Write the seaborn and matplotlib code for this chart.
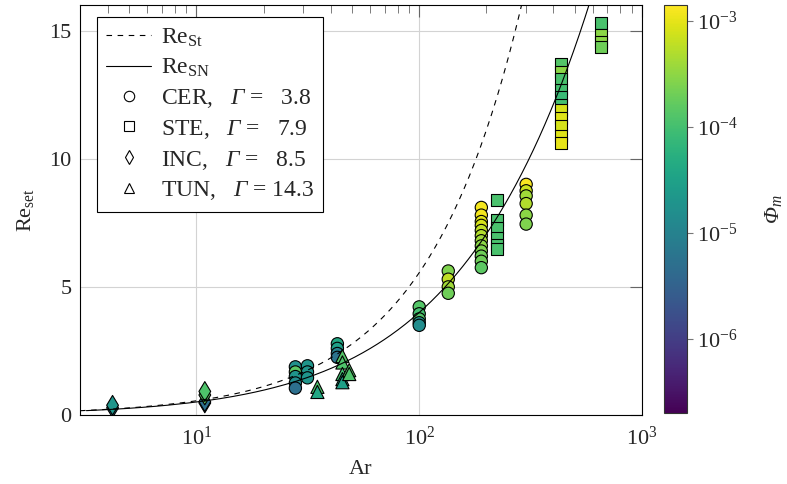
import numpy as np
import pandas as pd
import matplotlib
matplotlib.use("Agg")
import matplotlib.pyplot as plt
import seaborn as sns
from matplotlib.colors import LogNorm
from matplotlib.lines import Line2D
from matplotlib.cm import ScalarMappable

# ---------------- data ----------------
CER_AR = [27.8]*5 + [31.5]*3 + [42.9]*4 + [100]*5 + [135]*4 + [190]*12 + [302]*6
CER_RE = [1.88, 1.68, 1.50, 1.25, 1.05,
          1.92, 1.68, 1.45,
          2.78, 2.60, 2.40, 2.25,
          4.22, 3.95, 3.75, 3.60, 3.50,
          5.62, 5.30, 5.00, 4.75,
          8.10, 7.80, 7.55, 7.40, 7.20, 7.00, 6.80, 6.60, 6.40, 6.20, 6.00, 5.75,
          9.00, 8.75, 8.55, 8.25, 7.80, 7.45]
CER_PHI = [1.7e-5, 1.5e-4, 2e-5, 1.5e-5, 5e-6,
           2e-5, 2e-5, 2e-5,
           4e-5, 3e-5, 1e-5, 6e-6,
           1.3e-4, 1e-4, 1.3e-4, 2e-5, 1.5e-5,
           2.5e-4, 6e-4, 4e-4, 2e-4,
           1.2e-3, 1.2e-3, 9e-4, 8e-4, 6e-4, 5e-4, 4e-4, 3e-4, 2.5e-4, 2e-4, 2e-4, 1.5e-4,
           1.3e-3, 7e-4, 4e-4, 5e-4, 3e-4, 2.5e-4]

STE_AR = [224]*6 + [433]*11 + [655]*4
STE_RE = [8.38, 7.60, 7.30, 6.90, 6.65, 6.48,
          13.7, 13.4, 13.1, 12.7, 12.4, 12.1, 11.9, 11.6, 11.3, 10.9, 10.6,
          15.3, 14.85, 14.55, 14.35]
STE_PHI = [1.1e-4]*6 + [1.3e-4, 3e-4, 1.1e-4, 1e-4, 8e-5, 1e-4, 8e-4, 9e-4, 8e-4, 9e-4, 1e-3] \
          + [1.1e-4, 3e-4, 3e-4, 2e-4]

INC_AR = [4.2, 4.2, 10.9, 10.9, 10.9, 10.9]
INC_RE = [0.28, 0.38, 0.47, 0.52, 0.78, 0.92]
INC_PHI = [6e-6, 2e-5, 1e-5, 5e-6, 1.5e-4, 1.2e-4]

TUN_AR = [34.9, 34.9, 45.2, 45.2, 45.2, 45.2, 45.2, 48.5, 48.5]
TUN_RE = [1.10, 0.90, 2.30, 2.05, 1.60, 1.40, 1.28, 1.75, 1.60]
TUN_PHI = [1.2e-4, 4e-5, 1.3e-4, 1.2e-4, 1e-4, 4e-5, 3e-5, 1.3e-4, 1.2e-4]

GROUPS = ["CER", "STE", "INC", "TUN"]
GAMMA = ["3.8", "7.9", "8.5", "14.3"]

# model constants (Stokes and Schiller-Naumann drag laws)
STOKES_C = 18.0
SN_A, SN_B = 0.15, 0.687

PHI_MIN, PHI_MAX = 2e-7, 1.4e-3

# ---------------- style ----------------
sns.set_theme(style="white")
FS = 16
plt.rcParams.update({
    "font.family": ["Liberation Serif", "DejaVu Serif"],
    "mathtext.fontset": "custom",
    "mathtext.rm": "Liberation Serif",
    "mathtext.it": "Liberation Serif:italic",
    "mathtext.bf": "Liberation Serif:bold",
    "mathtext.sf": "Liberation Serif:italic",   # used for italic Greek capitals
    "font.size": FS,
    "axes.edgecolor": "black",
    "axes.linewidth": 0.8,
})

fig = plt.figure(figsize=(7.87, 4.84), dpi=100)
W, H = 787, 484
ax = fig.add_axes([80 / W, 1 - 415 / H, (642 - 80) / W, (415 - 5) / H])
cax = fig.add_axes([664 / W, 1 - 413 / H, 23 / W, 408 / H])

norm = LogNorm(vmin=PHI_MIN, vmax=PHI_MAX)

groups = {
    "CER": (CER_AR, CER_RE, CER_PHI, "o", 78),
    "STE": (STE_AR, STE_RE, STE_PHI, "s", 72),
    "INC": (INC_AR, INC_RE, INC_PHI, "d", 100),
    "TUN": (TUN_AR, TUN_RE, TUN_PHI, "^", 90),
}
for name in ["INC", "CER", "TUN", "STE"]:
    a, r, p, m, s = groups[name]
    df = pd.DataFrame({"Ar": a, "Re": r, "phi": p})
    sns.scatterplot(data=df, x="Ar", y="Re", hue="phi", palette="viridis",
                    hue_norm=norm, marker=m, s=s, edgecolor="black",
                    linewidth=0.8, legend=False, ax=ax, zorder=2)

# model curves
ar_grid = np.logspace(np.log10(3), 3, 300)
re_st = ar_grid / STOKES_C
re_grid = np.linspace(0.0, 17, 400)
ar_sn = STOKES_C * re_grid * (1 + SN_A * re_grid ** SN_B)
mask = ar_sn > 2.5
sns.lineplot(x=ar_grid, y=re_st, ax=ax, color="black", lw=0.8,
             linestyle=(0, (5, 5)), zorder=3)
sns.lineplot(x=ar_sn[mask], y=re_grid[mask], ax=ax, color="black", lw=0.8,
             zorder=3, sort=False)

ax.set_xscale("log")
ax.set_xlim(3, 1000)
ax.set_ylim(0, 16)
ax.set_yticks([0, 5, 10, 15])
ax.grid(True, which="major", color="#d3d3d3", lw=0.8)
ax.set_axisbelow(True)
ax.tick_params(which="both", direction="in", top=True, right=True,
               color="#666666", labelsize=FS)
ax.tick_params(which="major", length=8.5, width=0.8)
ax.tick_params(which="minor", length=5.5, width=0.6)
ax.tick_params(axis="x", which="major", pad=8)
ax.tick_params(axis="y", which="major", pad=6)
ax.set_xlabel("Ar", fontsize=FS, labelpad=8)
ax.set_ylabel("Re$_{\\mathrm{set}}$", fontsize=FS, labelpad=10)
for sp in ax.spines.values():
    sp.set_color("black")
    sp.set_linewidth(0.8)

# legend
handles = [
    Line2D([], [], color="black", lw=0.8, linestyle=(0, (5, 5))),
    Line2D([], [], color="black", lw=0.8),
]
labels = ["Re$_{\\mathrm{St}}$", "Re$_{\\mathrm{SN}}$"]
markers = {"CER": "o", "STE": "s", "INC": "d", "TUN": "^"}
for g, gam in zip(GROUPS, GAMMA):
    handles.append(Line2D([], [], linestyle="none", marker=markers[g],
                          markerfacecolor="white", markeredgecolor="black",
                          markersize=7.5, markeredgewidth=0.8))
    pad = "   " if len(gam) == 3 else " "
    labels.append(f"{g},   $\\mathsf{{\\Gamma}}$ ={pad}{gam}")
leg = ax.legend(handles, labels, loc="upper left", bbox_to_anchor=(0.03, 0.97),
                borderaxespad=0, frameon=True, fancybox=False, framealpha=1,
                edgecolor="black", fontsize=17, handlelength=1.9,
                handletextpad=0.4, labelspacing=0.33, borderpad=0.4)
leg.get_frame().set_linewidth(0.8)

# colorbar
sm = ScalarMappable(norm=norm, cmap="viridis")
cb = fig.colorbar(sm, cax=cax)
cb.ax.minorticks_off()
cb.set_ticks([1e-6, 1e-5, 1e-4, 1e-3])
cb.ax.tick_params(direction="out", length=4, width=0.8, color="#777777",
                  labelsize=FS)
cb.outline.set_linewidth(0.8)
cb.outline.set_edgecolor("#333333")
cb.set_label("$\\mathsf{\\Phi}_m$", fontsize=FS, rotation=90, labelpad=18)

fig.savefig("out.png", dpi=100)
